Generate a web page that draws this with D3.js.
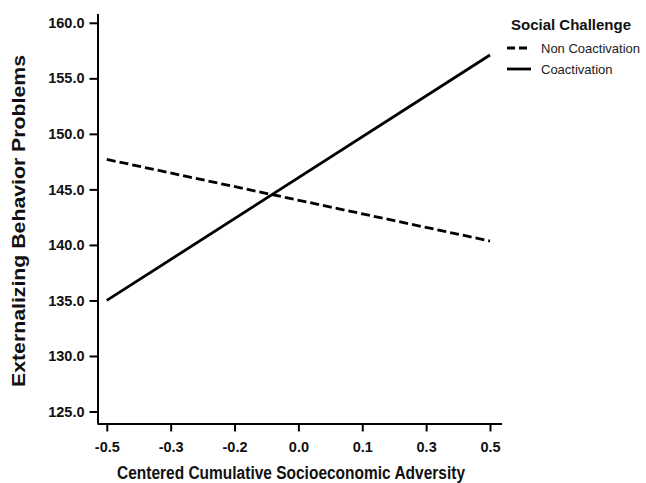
<!DOCTYPE html>
<html><head><meta charset="utf-8">
<script src="https://cdn.jsdelivr.net/npm/d3@7"></script>
<style>body{margin:0;background:#fff;} svg{display:block;}</style>
</head><body>
<svg id="c" width="646" height="483"></svg>
<script>
const xEnds = [-0.5, 0.5];
const nonCoactivation = [147.7, 140.35];
const coactivation = [135.0, 157.1];
const xTickValues = [-0.5, -1/3, -1/6, 0, 1/6, 1/3, 0.5];
const xTickLabels = ["-0.5", "-0.3", "-0.2", "0.0", "0.1", "0.3", "0.5"];
const yTickValues = [125, 130, 135, 140, 145, 150, 155, 160];
const seriesNames = ["Non Coactivation", "Coactivation"];

const svg = d3.select("#c");
const font = "'Liberation Sans', Arial, sans-serif";
const x = d3.scaleLinear().domain([-0.5, 0.5]).range([106.8, 490]);
const y = d3.scaleLinear().domain([125, 160]).range([411.5, 22.8]);

// axes
const xAxis = svg.append("g").attr("transform", "translate(0,423.5)")
  .call(d3.axisBottom(x).tickValues(xTickValues).tickSize(8).tickPadding(7).tickSizeOuter(0)
    .tickFormat((d, i) => xTickLabels[i]));
xAxis.select(".domain").attr("d", "M97.5,0.5H502");
const yAxis = svg.append("g").attr("transform", "translate(97.5,0)")
  .call(d3.axisLeft(y).tickValues(yTickValues).tickSize(8).tickPadding(5).tickSizeOuter(0)
    .tickFormat(d3.format(".1f")));
yAxis.select(".domain").attr("d", "M0.5,14V423.5");
svg.selectAll(".domain").attr("stroke", "#000").attr("stroke-width", 2);
svg.selectAll(".tick line").attr("stroke", "#000").attr("stroke-width", 2);
svg.selectAll(".tick text").attr("font-family", font).attr("font-size", 14.5)
  .attr("font-weight", "bold").attr("fill", "#111");
xAxis.selectAll(".tick text").attr("dy", "0.9em");

// lines
const line = d3.line().x((d, i) => x(xEnds[i])).y(d => y(d));
svg.append("path").datum(nonCoactivation).attr("d", line)
  .attr("fill", "none").attr("stroke", "#000").attr("stroke-width", 2.8)
  .attr("stroke-dasharray", "9,4");
svg.append("path").datum(coactivation).attr("d", line)
  .attr("fill", "none").attr("stroke", "#000").attr("stroke-width", 2.8);

// titles
svg.append("text").attr("x", 291).attr("y", 479).attr("text-anchor", "middle")
  .attr("font-family", font).attr("font-weight", "bold").attr("font-size", 17.5)
  .attr("textLength", 348).attr("lengthAdjust", "spacingAndGlyphs")
  .attr("fill", "#111")
  .text("Centered Cumulative Socioeconomic Adversity");
svg.append("text").attr("transform", "translate(25,221) rotate(-90)")
  .attr("text-anchor", "middle").attr("font-family", font).attr("font-weight", "bold")
  .attr("font-size", 17.5).attr("textLength", 332).attr("lengthAdjust", "spacingAndGlyphs")
  .attr("fill", "#111")
  .text("Externalizing Behavior Problems");

// legend
const lg = svg.append("g");
lg.append("text").attr("x", 511).attr("y", 30).attr("font-family", font)
  .attr("font-weight", "bold").attr("font-size", 15).attr("fill", "#111")
  .text("Social Challenge");
seriesNames.forEach((n, i) => {
  const yy = 48 + i * 21;
  lg.append("line").attr("x1", 507).attr("x2", 531).attr("y1", yy).attr("y2", yy)
    .attr("stroke", "#000").attr("stroke-width", 2.8)
    .attr("stroke-dasharray", i === 0 ? "8,4" : null);
  lg.append("text").attr("x", 541).attr("y", yy + 4.5).attr("font-family", font)
    .attr("font-size", 13).attr("fill", "#222").text(n);
});
</script>
</body></html>
